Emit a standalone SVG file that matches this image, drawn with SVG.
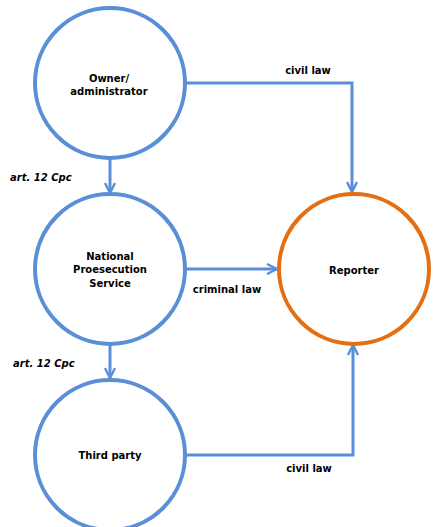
<svg xmlns="http://www.w3.org/2000/svg" width="436" height="527" viewBox="0 0 436 527">
<style>
.node{fill:#fff;stroke:#5A8FD8;stroke-width:4}
.rep{fill:#fff;stroke:#E46F12;stroke-width:4}
.t{font-family:"DejaVu Sans",sans-serif;font-weight:bold;font-size:10px;fill:#000;text-anchor:middle}
.i{font-family:"DejaVu Sans",sans-serif;font-weight:bold;font-style:italic;font-size:10px;fill:#000}
.c{fill:none;stroke:#5A8FD8;stroke-width:3}
</style>
<defs>
<marker id="a" viewBox="0 0 12 12" refX="11" refY="6" markerWidth="12" markerHeight="12" markerUnits="userSpaceOnUse" orient="auto">
<path d="M1,1 L11,6 L1,11" fill="none" stroke="#5A8FD8" stroke-width="2.4"/>
</marker>
</defs>
<rect width="436" height="527" fill="#fff"/>
<g id="connectors">
<path class="c" d="M186,83 H352 V192" marker-end="url(#a)"/>
<path class="c" d="M110,158 V193" marker-end="url(#a)"/>
<path class="c" d="M186,269 H277" marker-end="url(#a)"/>
<path class="c" d="M110,344 V378" marker-end="url(#a)"/>
<path class="c" d="M186,455 H353 V345" marker-end="url(#a)"/>
<text class="t" x="308" y="74">civil law</text>
<text class="t" x="227" y="293">criminal law</text>
<text class="t" x="309" y="472">civil law</text>
<text class="i" x="10" y="181">art. 12 Cpc</text>
<text class="i" x="13" y="367">art. 12 Cpc</text>
</g>
<g id="owner">
<circle class="node" cx="110" cy="83" r="75"/>
<text class="t" x="109" y="82">Owner/</text>
<text class="t" x="109" y="95">administrator</text>
</g>
<g id="nps">
<circle class="node" cx="110" cy="269" r="75"/>
<text class="t" x="110" y="260">National</text>
<text class="t" x="110" y="273">Proesecution</text>
<text class="t" x="110" y="287">Service</text>
</g>
<g id="third">
<circle class="node" cx="110" cy="455" r="75"/>
<text class="t" x="110" y="459">Third party</text>
</g>
<g id="reporter">
<circle class="rep" cx="354" cy="269" r="75"/>
<text class="t" x="354" y="274">Reporter</text>
</g>
</svg>
